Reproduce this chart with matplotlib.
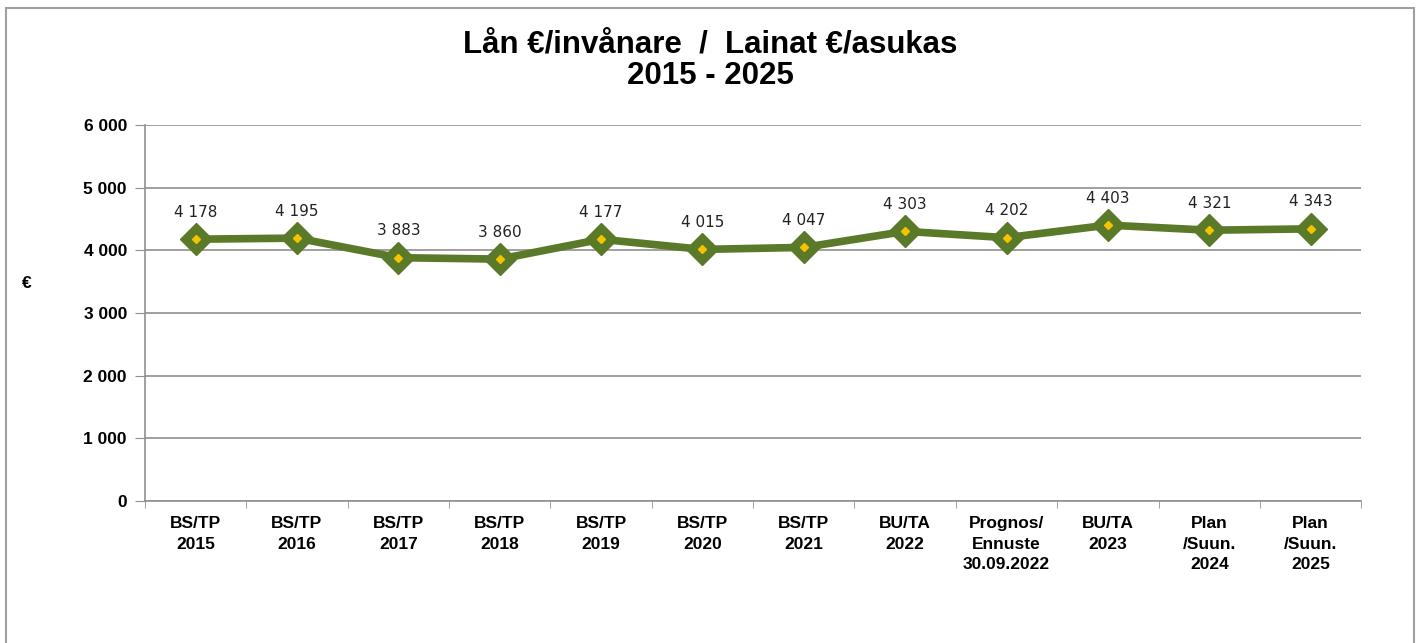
import numpy as np
from matplotlib import pyplot as plt
from matplotlib.patches import Rectangle

categories = ['BS/TP\n2015', 'BS/TP\n2016', 'BS/TP\n2017', 'BS/TP\n2018',
              'BS/TP\n2019', 'BS/TP\n2020', 'BS/TP\n2021', 'BU/TA\n2022',
              'Prognos/\nEnnuste\n30.09.2022', 'BU/TA\n2023',
              'Plan\n/Suun.\n2024', 'Plan\n/Suun.\n2025']
values = [4178, 4195, 3883, 3860, 4177, 4015, 4047, 4303, 4202, 4403, 4321, 4343]
yticks = [0, 1000, 2000, 3000, 4000, 5000, 6000]


def fmt(v):
    return f'{v:,}'.replace(',', ' ')


if __name__ == '__main__':
    plt.rcParams['font.family'] = ['Liberation Sans', 'DejaVu Sans']
    fig = plt.figure(figsize=(14.21, 6.43), dpi=100)
    ax = fig.add_axes([0.102, 0.2208, 0.856, 0.5848])

    # outer chart frame
    fig.patches.append(Rectangle((6 / 1421, -0.05), 1408 / 1421, 1.05 - 8 / 643,
                                 transform=fig.transFigure, fill=False,
                                 edgecolor='#a0a0a0', linewidth=1.5))

    x = np.arange(len(values))
    green = '#5a7a2a'
    ax.plot(x, values, color=green, linewidth=5.5, marker='D', markersize=16,
            markerfacecolor=green, markeredgecolor=green, zorder=3,
            solid_joinstyle='round')
    ax.plot(x, values, linestyle='none', marker='D', markersize=4.5,
            markerfacecolor='#f5c400', markeredgecolor='#f5c400', zorder=4)
    for xi, v in zip(x, values):
        ax.annotate(fmt(v), (xi, v), xytext=(0, 14), textcoords='offset points',
                    ha='center', va='bottom', fontsize=11,
                    fontfamily='DejaVu Sans', color='#222222')

    ax.set_xlim(-0.5, len(values) - 0.5)
    ax.set_ylim(0, 6000)
    ax.set_yticks(yticks)
    ax.set_yticklabels([fmt(t) for t in yticks], fontsize=12.5, fontweight='bold')
    ax.set_xticks(x)
    ax.set_xticklabels(categories, fontsize=12.5, fontweight='bold', va='top',
                       linespacing=1.45)
    ax.tick_params(axis='x', length=0, pad=11)
    ax.set_xticks(np.arange(len(values) + 1) - 0.5, minor=True)
    ax.tick_params(axis='x', which='minor', length=5, color='#909090', direction='out')
    ax.tick_params(axis='y', length=7, color='#909090', pad=6)

    ax.grid(axis='y', color='#909090', linewidth=1.2)
    ax.set_axisbelow(True)
    for s in ['top', 'right']:
        ax.spines[s].set_visible(False)
    for s in ['left', 'bottom']:
        ax.spines[s].set_color('#909090')
        ax.spines[s].set_linewidth(1.2)

    fig.text(27 / 1421, 1 - 283 / 643, '€', fontsize=12.5, fontweight='bold',
             ha='center', va='center')
    fig.text(710 / 1421, 1 - 60 / 643, 'Lån €/invånare  /  Lainat €/asukas\n2015 - 2025',
             fontsize=22.5, fontweight='bold', ha='center', va='center', linespacing=1.05)

    fig.savefig('out.png', dpi=100)
